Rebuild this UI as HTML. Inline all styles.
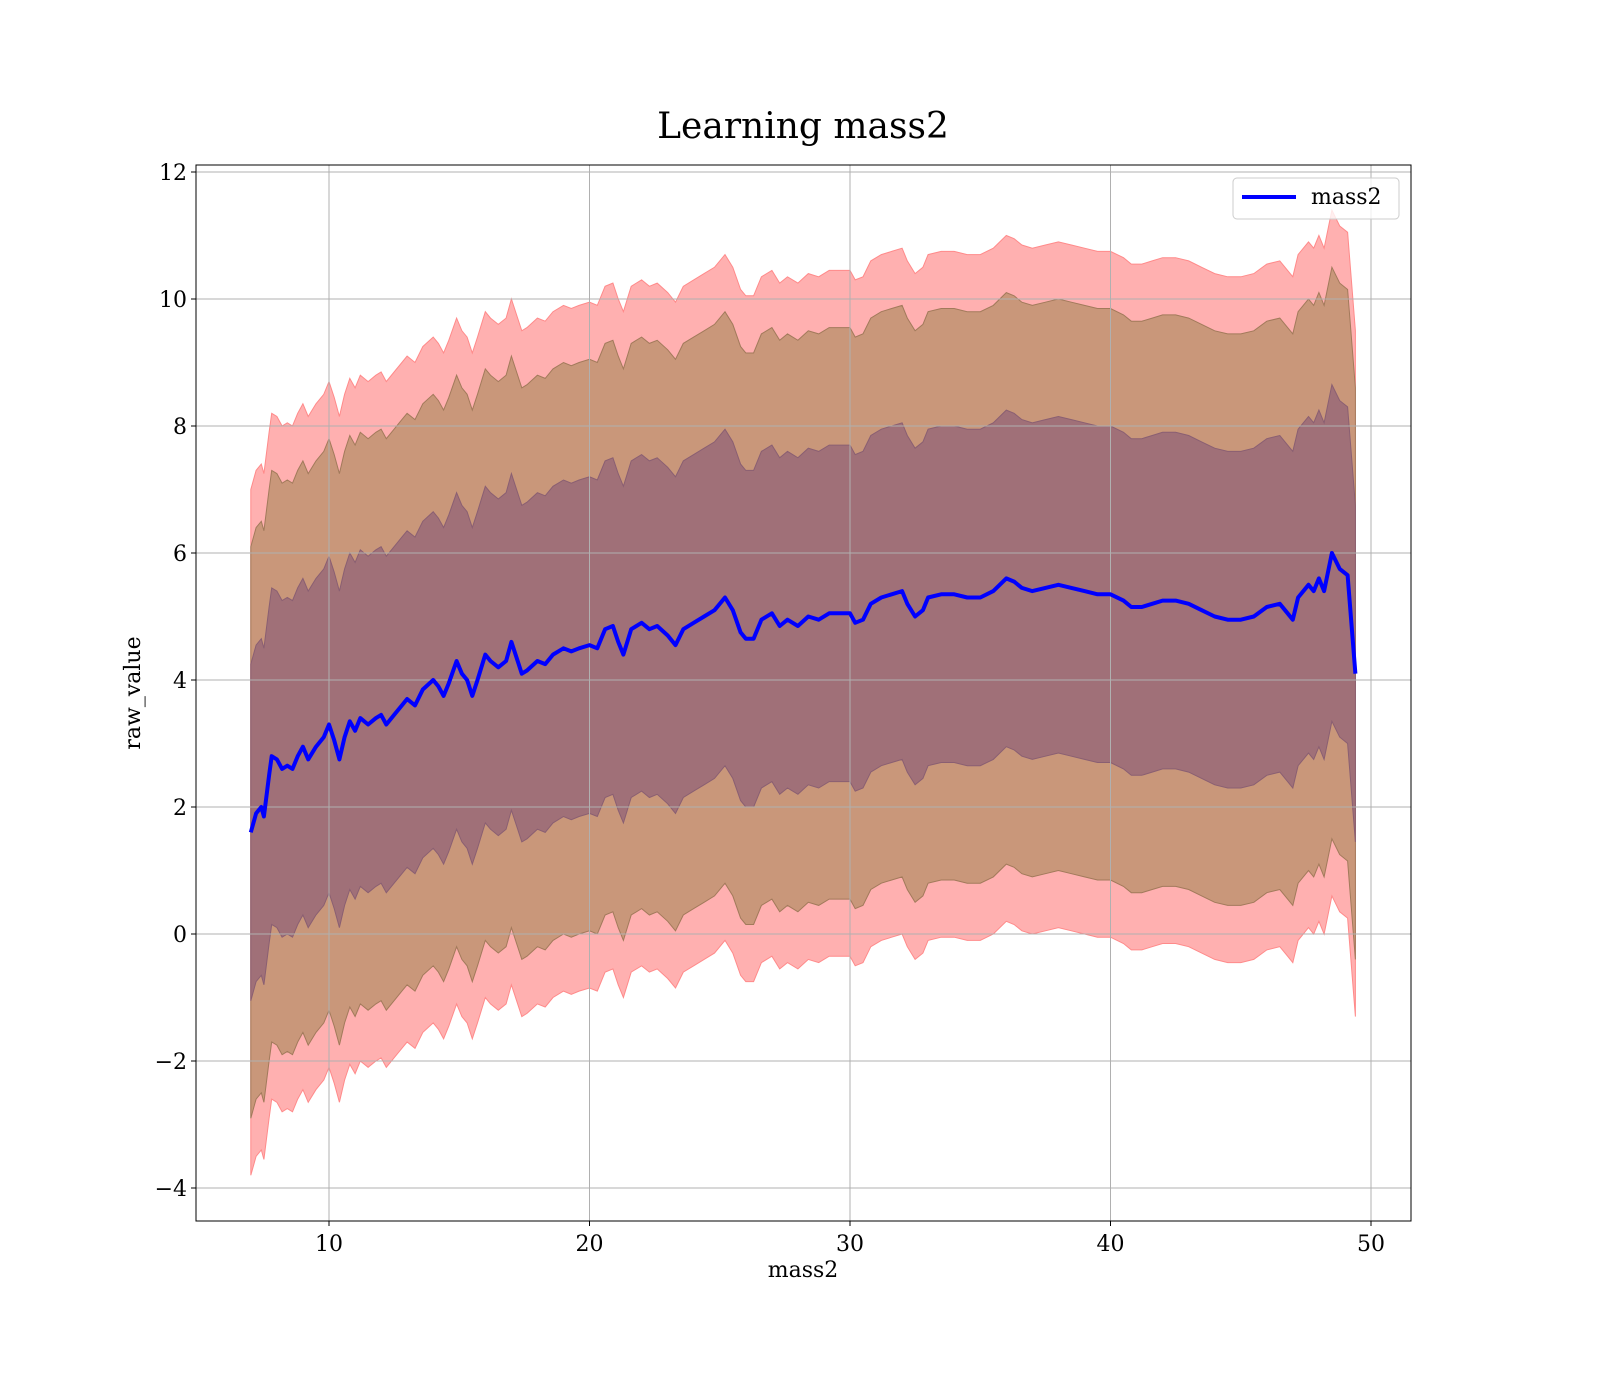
<!DOCTYPE html>
<html><head><meta charset="utf-8"><style>
html,body{margin:0;padding:0;background:#fff;overflow:hidden;width:1600px;height:1400px}
svg{display:block}
svg text{font-family:"DejaVu Serif","Liberation Serif",serif;fill:#000}
</style></head><body>
<svg id="chart" width="1600" height="1400" xmlns="http://www.w3.org/2000/svg">
<rect width="1600" height="1400" fill="#fff"/>
<text x="803" y="138" font-size="36" text-anchor="middle">Learning mass2</text>
<g id="plot"></g>
<text x="803" y="1277" font-size="22" text-anchor="middle">mass2</text>
<text transform="translate(140,693) rotate(-90)" font-size="22" text-anchor="middle">raw_value</text>
</svg>
<script>
const xs=[7.0,7.2,7.4,7.5,7.7,7.8,8.0,8.2,8.4,8.6,8.8,9.0,9.2,9.5,9.8,10.0,10.2,10.4,10.6,10.8,11.0,11.2,11.5,11.8,12.0,12.2,12.5,12.8,13.0,13.3,13.6,14.0,14.2,14.4,14.6,14.9,15.1,15.3,15.5,15.7,16.0,16.2,16.5,16.8,17.0,17.2,17.4,17.6,18.0,18.3,18.6,19.0,19.3,19.6,20.0,20.3,20.6,20.9,21.1,21.3,21.6,22.0,22.3,22.6,23.0,23.3,23.6,24.0,24.4,24.8,25.2,25.5,25.8,26.0,26.3,26.6,27.0,27.3,27.6,28.0,28.4,28.8,29.2,29.6,30.0,30.2,30.5,30.8,31.2,31.6,32.0,32.2,32.5,32.8,33.0,33.5,34.0,34.5,35.0,35.5,36.0,36.3,36.6,37.0,37.5,38.0,38.5,39.0,39.5,40.0,40.5,40.8,41.2,41.6,42.0,42.5,43.0,43.5,44.0,44.5,45.0,45.5,46.0,46.5,46.8,47.0,47.2,47.6,47.8,48.0,48.2,48.5,48.8,49.1,49.4];
const means=[1.6,1.9,2.0,1.85,2.5,2.8,2.75,2.6,2.65,2.6,2.8,2.95,2.75,2.95,3.1,3.3,3.05,2.75,3.1,3.35,3.2,3.4,3.3,3.4,3.45,3.3,3.45,3.6,3.7,3.6,3.85,4.0,3.9,3.75,3.95,4.3,4.1,4.0,3.75,4.0,4.4,4.3,4.2,4.3,4.6,4.35,4.1,4.15,4.3,4.25,4.4,4.5,4.45,4.5,4.55,4.5,4.8,4.85,4.6,4.4,4.8,4.9,4.8,4.85,4.7,4.55,4.8,4.9,5.0,5.1,5.3,5.1,4.75,4.65,4.65,4.95,5.05,4.85,4.95,4.85,5.0,4.95,5.05,5.05,5.05,4.9,4.95,5.2,5.3,5.35,5.4,5.2,5.0,5.1,5.3,5.35,5.35,5.3,5.3,5.4,5.6,5.55,5.45,5.4,5.45,5.5,5.45,5.4,5.35,5.35,5.25,5.15,5.15,5.2,5.25,5.25,5.2,5.1,5.0,4.95,4.95,5.0,5.15,5.2,5.05,4.95,5.3,5.5,5.4,5.6,5.4,6.0,5.75,5.65,4.1];
const bandHalfWidths=[5.4,4.5,2.65];
const xTicks=[10,20,30,40,50];
const yTicks=[-4,-2,0,2,4,6,8,10,12];
const L=196,R=1411,T=165,B=1221;
const X=v=>329+(v-10)*26.05, Y=v=>934-v*63.5;
const NS="http://www.w3.org/2000/svg", g=document.getElementById('plot');
function mk(t,a){const e=document.createElementNS(NS,t);for(const k in a)e.setAttribute(k,a[k]);g.appendChild(e);return e;}
const bandFill=['#ffb0b0','#c9977a','#a07078'], bandEdge=['#ff8a8a','#a27a5b','#8a5f72'];
bandHalfWidths.forEach((w,i)=>{
  let d='M'+xs.map((x,j)=>X(x).toFixed(1)+','+Y(means[j]+w).toFixed(1)).join('L');
  for(let j=xs.length-1;j>=0;j--)d+='L'+X(xs[j]).toFixed(1)+','+Y(means[j]-w).toFixed(1);
  const p=mk('path',{d:d+'Z',fill:bandFill[i],stroke:bandEdge[i],'stroke-width':1});
  
  
});
xTicks.forEach(t=>{
  const l=mk('line',{x1:X(t),x2:X(t),y1:T,y2:B,stroke:'#b0b0b0','stroke-width':1});
  
  
  mk('line',{x1:X(t),x2:X(t),y1:B,y2:B+5,stroke:'#000'});
  const tx=mk('text',{x:X(t),y:B+30,'font-size':22,'text-anchor':'middle'});tx.textContent=t;
  
  
});
yTicks.forEach(t=>{
  const l=mk('line',{x1:L,x2:R,y1:Y(t),y2:Y(t),stroke:'#b0b0b0','stroke-width':1});
  
  
  mk('line',{x1:L-5,x2:L,y1:Y(t),y2:Y(t),stroke:'#000'});
  const tx=mk('text',{x:L-9,y:Y(t)+8,'font-size':22,'text-anchor':'end'});tx.textContent=t<0?'\u2212'+(-t):t;
  
  
});
const line=mk('polyline',{points:xs.map((x,j)=>X(x).toFixed(1)+','+Y(means[j]).toFixed(1)).join(' '),fill:'none',stroke:'#0000ff','stroke-width':4,'stroke-linejoin':'round'});


const fr=mk('rect',{x:L,y:T,width:R-L,height:B-T,fill:'none',stroke:'#000','stroke-width':1});


const lg=mk('rect',{x:1233,y:178,width:166,height:41,rx:4,fill:'#fff','fill-opacity':0.8,stroke:'#ccc'});


const ll=mk('line',{x1:1242,x2:1296,y1:197,y2:197,stroke:'#0000ff','stroke-width':4});


const lt=mk('text',{x:1311,y:204,'font-size':22});lt.textContent='mass2';


</script>
</body></html>
